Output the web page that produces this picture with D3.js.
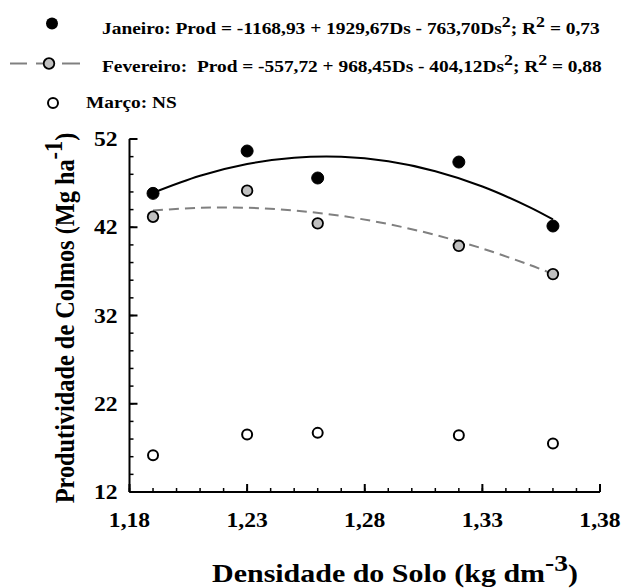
<!DOCTYPE html>
<html>
<head>
  <meta charset="utf-8">
  <script src="https://cdnjs.cloudflare.com/ajax/libs/d3/7.8.5/d3.min.js"></script>
</head>
<body style="margin:0;background:#fff">
  <svg id="chart" width="644" height="588"></svg>
  <script>
    // densidade do solo
    var densidade = [1.19, 1.23, 1.26, 1.32, 1.36];
    var janeiro = [45.84, 50.64, 47.58, 49.39, 42.14];
    var fevereiro = [43.19, 46.14, 42.44, 39.9, 36.69];
    var marco = [16.17, 18.52, 18.7, 18.44, 17.5];

    // trend lines
    var curvaX = [1.19, 1.21, 1.23, 1.25, 1.27, 1.29, 1.31, 1.33, 1.35, 1.36];
    var curvaJan = [45.9, 47.83, 49.16, 49.87, 49.98, 49.47, 48.35, 46.62, 44.28, 42.88];
    var curvaFev = [43.9, 44.21, 44.21, 43.9, 43.29, 42.36, 41.13, 39.59, 37.74, 36.7];

    var xTicks = [1.18, 1.23, 1.28, 1.33, 1.38];
    var yTicks = [12, 22, 32, 42, 52];

    var svg = d3.select("#chart");
    var x = d3.scaleLinear().domain([1.18, 1.38]).range([129.5, 600]);
    var y = d3.scaleLinear().domain([12, 52]).range([492, 139]);
    var fmt = d => d.toFixed(2).replace(".", ",");
    var STRETCH = 1.18; // the source figure is wider than tall

    // text with optional superscripts, stretched horizontally
    // sx < 0 means: stretch to a width of -sx pixels
    function texto(g, partes, size, anchor, tx, ty, sx, sy, rot) {
      var t = g.append("text")
        .style("font-family", "'Liberation Serif', 'Times New Roman', serif")
        .style("font-weight", "bold").style("font-size", size + "px")
        .style("white-space", "pre").attr("fill", "#000")
        .attr("text-anchor", anchor);
      var dy = 0;
      partes.forEach(function (p) {
        if (typeof p === "string") {
          t.append("tspan").attr("dy", dy).text(p);
          dy = 0;
        } else {
          t.append("tspan").attr("dy", dy - size * 0.42).style("font-size", (size * 0.92) + "px").text(p.sup);
          dy = size * 0.42;
        }
      });
      if (sx < 0) sx = -sx / t.node().getBBox().width;
      t.attr("transform", "translate(" + tx + "," + ty + ")" + (rot ? " rotate(" + rot + ")" : "") + " scale(" + sx + "," + sy + ")");
      return t;
    }

    // axes (ticks point inward)
    var xAxis = svg.append("g").attr("transform", "translate(0,492)");
    xAxis.append("line").attr("x1", x(1.18)).attr("x2", x(1.38)).attr("stroke", "#000").attr("stroke-width", 2);
    xAxis.selectAll(".minor").data(d3.range(1.18, 1.3801, 0.01)).enter().append("line")
      .attr("x1", d => x(d)).attr("x2", d => x(d)).attr("y1", 0).attr("y2", -4)
      .attr("stroke", "#000").attr("stroke-width", 1.5);
    xAxis.selectAll(".major").data(xTicks).enter().append("line")
      .attr("x1", d => x(d)).attr("x2", d => x(d)).attr("y1", 0).attr("y2", -8)
      .attr("stroke", "#000").attr("stroke-width", 2);
    xTicks.forEach(function (d) { texto(xAxis, [fmt(d)], 20, "middle", x(d), 35, STRETCH, 1); });

    var yAxis = svg.append("g").attr("transform", "translate(129.5,0)");
    yAxis.append("line").attr("y1", y(12)).attr("y2", y(52)).attr("stroke", "#000").attr("stroke-width", 2);
    yAxis.selectAll(".minor").data(d3.range(12, 52.01, 2)).enter().append("line")
      .attr("y1", d => y(d)).attr("y2", d => y(d)).attr("x1", 0).attr("x2", 4)
      .attr("stroke", "#000").attr("stroke-width", 1.5);
    yAxis.selectAll(".major").data(yTicks).enter().append("line")
      .attr("y1", d => y(d)).attr("y2", d => y(d)).attr("x1", 0).attr("x2", 8)
      .attr("stroke", "#000").attr("stroke-width", 2);
    yTicks.forEach(function (d) { texto(yAxis, [String(d)], 20, "end", -12, y(d) + 7, STRETCH, 1); });

    // axis titles
    texto(svg, ["Densidade do Solo (kg dm", { sup: "-3" }, ")"], 26, "middle", 395, 582, -366, 1);
    texto(svg, ["Produtividade de Colmos (Mg ha", { sup: "-1" }, ")"], 24, "middle", 74, 318, -371, STRETCH, -90);

    // curves
    var line = d3.line().x(d => x(d[0])).y(d => y(d[1])).curve(d3.curveCatmullRom);
    svg.append("path").datum(d3.zip(curvaX, curvaJan)).attr("d", line)
      .attr("fill", "none").attr("stroke", "#000").attr("stroke-width", 2);
    svg.append("path").datum(d3.zip(curvaX, curvaFev)).attr("d", line)
      .attr("fill", "none").attr("stroke", "#808080").attr("stroke-width", 2)
      .attr("stroke-dasharray", "10,6");

    // points
    function pontos(vals, fill, r, sw) {
      svg.append("g").selectAll("circle").data(d3.zip(densidade, vals)).enter().append("circle")
        .attr("cx", d => x(d[0])).attr("cy", d => y(d[1])).attr("r", r)
        .attr("fill", fill).attr("stroke", "#000").attr("stroke-width", sw);
    }
    pontos(janeiro, "#000", 6, 1);
    pontos(fevereiro, "#c0c0c0", 5.3, 1.8);
    pontos(marco, "#fff", 5, 2);

    // legend
    var leg = svg.append("g");
    leg.append("circle").attr("cx", 52).attr("cy", 23.5).attr("r", 6).attr("fill", "#000");
    [[10, 27], [36, 44], [62, 80]].forEach(function (s) {
      leg.append("line").attr("x1", s[0]).attr("x2", s[1]).attr("y1", 63.5).attr("y2", 63.5)
        .attr("stroke", "#808080").attr("stroke-width", 2);
    });
    leg.append("circle").attr("cx", 49).attr("cy", 63.5).attr("r", 5.3).attr("fill", "#c0c0c0").attr("stroke", "#000").attr("stroke-width", 1.8);
    leg.append("circle").attr("cx", 53).attr("cy", 103).attr("r", 5).attr("fill", "#fff").attr("stroke", "#000").attr("stroke-width", 2);

    texto(leg, ["Janeiro: Prod = -1168,93 + 1929,67Ds - 763,70Ds", { sup: "2" }, "; R", { sup: "2" }, " = 0,73"], 16, "start", 102, 34, -498, 1);
    texto(leg, ["Fevereiro:  Prod = -557,72 + 968,45Ds - 404,12Ds", { sup: "2" }, "; R", { sup: "2" }, " = 0,88"], 16, "start", 102, 72, -500, 1);
    texto(leg, ["Março: NS"], 16, "start", 86, 107.5, 1.21, 1);
  </script>
</body>
</html>
